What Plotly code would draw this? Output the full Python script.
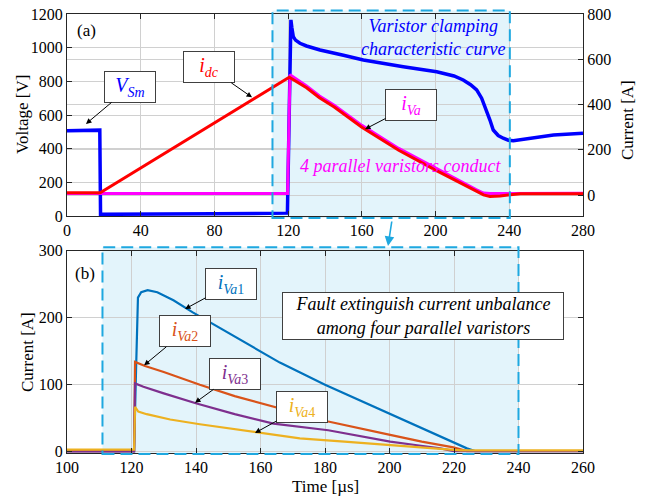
import plotly.graph_objects as go

# page body has an 8px margin: the figure is sized to fill the rest of the 649x499 window
OFF = 8
W, H = 649 - OFF, 499 - OFF

# ---------------- panel (a) data ----------------
t_vsm = [0, 17.8, 18.2, 40, 80, 119.6, 120.4, 121.5, 122, 122.8, 124, 126.4, 130, 137.3,
         150, 160.8, 182.5, 200.6, 210, 215, 219, 222.3, 225, 227.7, 229.5, 231.3, 234,
         236.7, 239.5, 242.2, 250, 264, 280]
v_sm = [507, 510, 10, 10, 13, 17, 600, 1165, 1120, 1065, 1045, 1026, 1010, 986,
        955, 927, 887, 857, 832, 808, 780, 749, 700, 630, 570, 511, 478,
        462, 450, 447, 458, 481, 491]

t_idc = [0, 18, 120.6, 130, 137, 145, 160, 180, 200, 213, 222, 226, 229.5, 235, 246, 280]
i_dc = [10, 10, 521, 474, 430, 389, 300, 198, 110, 54, 17, 1, -6, -4, 6, 6]

t_iva = [0, 18, 119.7, 120.4, 121, 130, 137, 145, 160, 180, 200, 213, 222, 226, 229.5, 240, 260, 280]
i_va = [7, 7, 7, 300, 532, 482, 438, 397, 308, 206, 118, 62, 24, 9, 7, 7, 7, 8]

# ---------------- panel (b) data ----------------
t_va1 = [100, 120.8, 121.4, 122, 123, 125, 128, 133, 139, 152, 166, 180, 200, 210, 220, 224, 226.5, 260]
i_va1 = [1, 1, 120, 230, 238, 241, 238, 226, 208, 172, 133, 100, 57, 35, 14, 5, 1, 1]

t_va2 = [100, 120.8, 121.1, 124.2, 130, 141.2, 152, 164, 181, 200.2, 210, 219.8, 224, 260]
i_va2 = [1, 1, 134, 128, 119, 100, 83, 67, 45, 25, 15, 6.5, 1, 1]

t_va3 = [100, 120.8, 121.1, 123.7, 130, 140.2, 152, 164, 181, 200.2, 208, 215.7, 220, 260]
i_va3 = [0, 0, 102, 97, 87, 72, 56, 42, 32, 15, 10, 5, 1, 1]

t_va4 = [100, 120.8, 121.1, 122.1, 124.7, 132, 141.2, 158.8, 172.2, 186, 200.2, 210, 217.7, 222, 260]
i_va4 = [3, 3, 67, 60, 56, 48, 41, 29, 20, 15, 10, 6, 3.5, 2, 2]

# tick values
xa_ticks = [0, 40, 80, 120, 160, 200, 240, 280]
ya_ticks = [0, 200, 400, 600, 800, 1000, 1200]
y2_ticks = [0, 200, 400, 600, 800]
xb_ticks = [100, 120, 140, 160, 180, 200, 220, 240, 260]
yb_ticks = [0, 100, 200, 300]


def PX(px):
    return (px - OFF) / W


def PY(py):
    return 1 - (py - OFF) / H


# ---------------- layout geometry ----------------
xdom = [PX(67), PX(583)]
ydom_a = [PY(216), PY(14)]
ydom_b = [PY(452.7), PY(250.7)]
xr_a = [0, 280]
xr_b = [100, 260]
yr_a = [0, 1200]
yr_a2 = [-92.5, 800]
yr_b = [-1.5, 300]

FONT = "Liberation Serif, Times New Roman, Times, serif"
DARK = "#262626"
GRID = "#d0d0d0"
CYAN = "#1EA8E0"
FILL = "#E3F4FB"


def xpaper(t, rng):
    return xdom[0] + (t - rng[0]) / (rng[1] - rng[0]) * (xdom[1] - xdom[0])


fig = go.Figure()

# panel (a)
fig.add_trace(go.Scatter(x=t_vsm, y=v_sm, mode="lines", line=dict(color="#0000FF", width=3.5),
                         xaxis="x", yaxis="y", name="V_Sm"))
fig.add_trace(go.Scatter(x=t_iva, y=i_va, mode="lines", line=dict(color="#FF00FF", width=3),
                         xaxis="x", yaxis="y2", name="i_Va"))
fig.add_trace(go.Scatter(x=t_idc, y=i_dc, mode="lines", line=dict(color="#FF0000", width=3),
                         xaxis="x", yaxis="y2", name="i_dc"))

# panel (b)
for tt, vv, col, nm in [(t_va1, i_va1, "#0072BD", "i_Va1"),
                        (t_va2, i_va2, "#D95319", "i_Va2"),
                        (t_va3, i_va3, "#7E2F8E", "i_Va3"),
                        (t_va4, i_va4, "#EDB120", "i_Va4")]:
    fig.add_trace(go.Scatter(x=tt, y=vv, mode="lines", line=dict(color=col, width=2.2),
                             xaxis="x2", yaxis="y3", name=nm))

tickfont = dict(family=FONT, size=16, color="black")
common = dict(showline=True, linecolor=DARK, linewidth=1, ticks="inside", ticklen=5,
              tickcolor=DARK, showgrid=True, gridcolor=GRID, gridwidth=1, zeroline=False,
              tickfont=tickfont, automargin=False, ticklabeloverflow="allow")

fig.update_layout(
    width=W, height=H,
    margin=dict(l=0, r=0, t=0, b=0, pad=0, autoexpand=False),
    paper_bgcolor="white", plot_bgcolor="rgba(0,0,0,0)",
    showlegend=False,
    font=dict(family=FONT),
    xaxis=dict(domain=xdom, range=xr_a, tickvals=xa_ticks, anchor="y", mirror="ticks", **common),
    yaxis=dict(domain=ydom_a, range=yr_a, tickvals=ya_ticks, anchor="x", mirror=False, **common),
    yaxis2=dict(range=yr_a2, tickvals=y2_ticks, overlaying="y", side="right", anchor="x",
                **common),
    xaxis2=dict(domain=xdom, range=xr_b, tickvals=xb_ticks, anchor="y3", mirror="ticks", **common),
    yaxis3=dict(domain=ydom_b, range=yr_b, tickvals=yb_ticks, anchor="x2", mirror="ticks", **common),
)

# shaded dashed regions
shapes = []
for (t0, t1, rng, ydom, dy0, dy1) in [(111.5, 240.3, xr_a, ydom_a, 2, 3.5),
                                      (111.0, 240.0, xr_b, ydom_b, 1.3, 3.4)]:
    x0, x1 = xpaper(t0, rng), xpaper(t1, rng)
    y0, y1 = ydom[0] - dy0 / H, ydom[1] + dy1 / H
    shapes.append(dict(type="rect", xref="paper", yref="paper", x0=x0, x1=x1, y0=y0, y1=y1,
                       fillcolor=FILL, line=dict(width=0), layer="below"))
    shapes.append(dict(type="rect", xref="paper", yref="paper", x0=x0, x1=x1, y0=y0, y1=y1,
                       fillcolor="rgba(0,0,0,0)", line=dict(color=CYAN, width=2, dash="12px,6px"),
                       layer="above"))
fig.update_layout(shapes=shapes)

ann = []


def boxlabel(x, y, xref, yref, text, color, ax, ay):
    ann.append(dict(x=x, y=y, xref=xref, yref=yref, text=text, showarrow=True,
                    ax=ax, ay=ay, arrowhead=2, arrowsize=1.1, arrowwidth=1, arrowcolor="black",
                    font=dict(family=FONT, size=20, color=color),
                    bgcolor="white", bordercolor="#404040", borderwidth=1,
                    width=48, height=28, borderpad=1))


boxlabel(10.3, 547, "x", "y", "<i>V<sub>Sm</sub></i>", "#0000FF", 44, -37)
boxlabel(100.4, 432, "x", "y2", "<i>i<sub>dc</sub></i>", "#FF0000", -43, -30)
boxlabel(161.7, 291, "x", "y2", "<i>i<sub>Va</sub></i>", "#FF00FF", 46, -24)

boxlabel(136.6, 213, "x2", "y3", "<i>i<sub>Va</sub></i><sub>1</sub>", "#0072BD", 46, -25)
boxlabel(123.9, 129, "x2", "y3", "<i>i<sub>Va</sub></i><sub>2</sub>", "#D95319", 41, -34)
boxlabel(139.7, 73, "x2", "y3", "<i>i<sub>Va</sub></i><sub>3</sub>", "#7E2F8E", 40, -29)
boxlabel(158.3, 28, "x2", "y3", "<i>i<sub>Va</sub></i><sub>4</sub>", "#EDB120", 47, -26)


def ptext(xp, yp, text, color="black", size=18, angle=0, **kw):
    d = dict(x=PX(xp), y=PY(yp), xref="paper", yref="paper", text=text, showarrow=False,
             font=dict(family=FONT, size=size, color=color), textangle=angle,
             xanchor="center", yanchor="middle")
    d.update(kw)
    ann.append(d)


ptext(86, 31, "(a)", size=17)
ptext(85, 273, "(b)", size=17)
ptext(433, 38, "<i>Varistor clamping<br>characteristic curve</i>", color="#0000FF", size=18)
ptext(400, 166, "<i>4 parallel varistors conduct</i>", color="#FF00FF", size=18)
ptext(422.5, 315.5, "<i>Fault extinguish current unbalance<br>among four parallel varistors</i>",
      size=18, bgcolor="white", bordercolor="#404040", borderwidth=1, width=278, height=44,
      borderpad=1)

# axis titles
ptext(22, 115, "Voltage [V]", size=17, angle=-90)
ptext(627, 120, "Current [A]", size=17, angle=-90)
ptext(27, 352, "Current [A]", size=17, angle=-90)
ptext(325, 486, "Time [µs]", size=17)

# connecting arrow
ann.append(dict(x=PX(388), y=PY(246), xref="paper", yref="paper", text="", showarrow=True,
                ax=4, ay=-26, arrowhead=2, arrowsize=1.2, arrowwidth=1.6, arrowcolor=CYAN))

fig.update_layout(annotations=ann)

fig.write_html("out.html")
